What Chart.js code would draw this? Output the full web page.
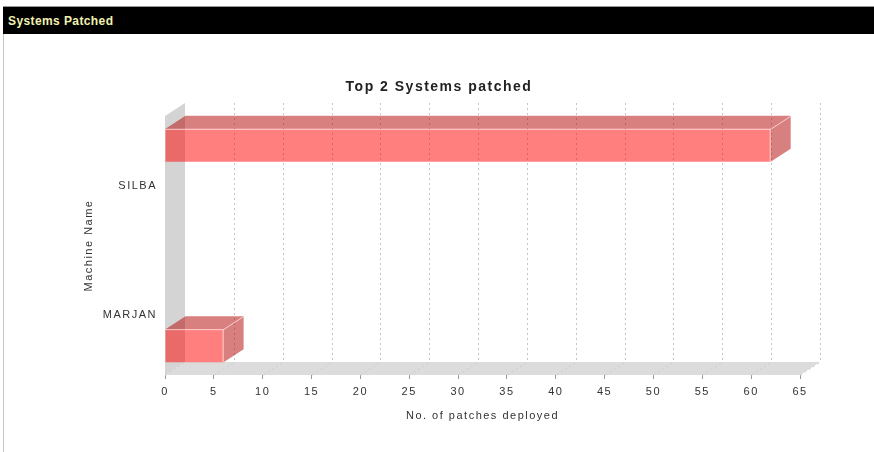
<html><head>
<title>Systems Patched</title>
<script src="https://cdn.jsdelivr.net/npm/chart.js"></script>
<style>
  body { margin: 0; background: #fff; font-family: 'Liberation Sans', Arial, sans-serif; }
  .header {
    position: absolute; left: 3px; top: 6px; width: 871px; height: 28px;
    background: #000; color: #f2f2b0; font-weight: bold; font-size: 12px;
    line-height: 29px; padding-left: 5px; box-sizing: border-box; letter-spacing: 0.4px;
    border-top: 1px solid #999;
  }
  .frame { position: absolute; left: 3px; top: 34px; width: 871px; height: 418px; border-left: 1px solid #c8c8c8; }
  .box { position: absolute; left: 0; top: 34px; width: 874px; height: 418px; }
</style>
</head>
<body>
  <div class="header">Systems Patched</div>
  <div class="frame"></div>
  <div class="box"><canvas id="patchChart" width="874" height="418"></canvas></div>

<script>
  // data
  const machines = ['SILBA', 'MARJAN'];
  const patchCounts = [62, 6];
  const xMin = 0, xMax = 65, xStep = 5;

  // 3D depth of the JFreeChart-style plot
  const DX = 20, DY = -13;

  Chart.defaults.font.family = "'Liberation Sans', Arial, sans-serif";
  Chart.defaults.font.size = 11;
  Chart.defaults.color = '#333';

  // one dataset per machine so each bar sits in its own half of the band
  const datasets = machines.map((m, i) => ({
    label: m,
    data: patchCounts.map((v, j) => (j === i ? v : null)),
    backgroundColor: 'rgba(255,0,0,0.5)',
    borderWidth: 0,
    categoryPercentage: 1.093,
    barPercentage: 0.466
  }));

  function poly(ctx, pts) {
    ctx.beginPath();
    ctx.moveTo(pts[0][0], pts[0][1]);
    for (let i = 1; i < pts.length; i++) ctx.lineTo(pts[i][0], pts[i][1]);
    ctx.closePath();
    ctx.fill();
  }

  const threeD = {
    id: 'threeD',
    beforeDraw(chart) {
      chart.ctx.letterSpacing = '1.5px';
    },
    beforeDatasetsDraw(chart) {
      const { ctx, chartArea: a, scales: { x } } = chart;
      ctx.save();
      ctx.letterSpacing = '0px';
      // left wall
      ctx.fillStyle = '#d4d4d4';
      poly(ctx, [[a.left, a.top], [a.left + DX, a.top + DY], [a.left + DX, a.bottom + DY], [a.left, a.bottom]]);
      // floor
      ctx.fillStyle = '#dcdcdc';
      poly(ctx, [[a.left, a.bottom], [a.left + DX, a.bottom + DY], [a.right + DX, a.bottom + DY], [a.right, a.bottom]]);
      // gridlines on back plane + floor
      ctx.lineWidth = 1;
      ctx.setLineDash([2, 3]);
      x.ticks.forEach(t => {
        const px = Math.round(x.getPixelForValue(t.value)) + 0.5;
        if (t.value > xMin) {
          ctx.strokeStyle = '#c4c4c4';
          ctx.beginPath();
          ctx.moveTo(px + DX, a.top + DY);
          ctx.lineTo(px + DX, a.bottom + DY);
          ctx.stroke();
        }
        ctx.strokeStyle = '#cbcbcb';
        ctx.beginPath();
        ctx.moveTo(px, a.bottom);
        ctx.lineTo(px + DX, a.bottom + DY);
        ctx.stroke();
      });
      ctx.restore();
    },
    afterDatasetsDraw(chart) {
      const ctx = chart.ctx;
      ctx.save();
      chart.data.datasets.forEach((ds, i) => {
        chart.getDatasetMeta(i).data.forEach((bar, j) => {
          if (ds.data[j] == null) return;
          const { x, y, base, height } = bar.getProps(['x', 'y', 'base', 'height'], true);
          const top = y - height / 2, bot = y + height / 2;
          ctx.fillStyle = 'rgba(178,0,0,0.5)';
          poly(ctx, [[base, top], [x, top], [x + DX, top + DY], [base + DX, top + DY]]);
          poly(ctx, [[x, top], [x + DX, top + DY], [x + DX, bot + DY], [x, bot]]);
          ctx.strokeStyle = 'rgba(255,220,220,0.8)';
          ctx.lineWidth = 1;
          ctx.beginPath();
          ctx.moveTo(base, top + 0.5);
          ctx.lineTo(x, top + 0.5);
          ctx.lineTo(x + DX, top + DY + 0.5);
          ctx.moveTo(x - 0.5, top);
          ctx.lineTo(x - 0.5, bot);
          ctx.stroke();
        });
      });
      ctx.restore();
    }
  };

  new Chart(document.getElementById('patchChart'), {
    type: 'bar',
    data: { labels: machines, datasets: datasets },
    plugins: [threeD],
    options: {
      indexAxis: 'y',
      responsive: false,
      animation: false,
      layout: { padding: { left: 78, right: 74, top: 0, bottom: 0 } },
      plugins: {
        legend: { display: false },
        tooltip: { enabled: false },
        title: {
          display: true,
          text: 'Top 2 Systems patched',
          color: '#222',
          font: { size: 14, weight: 'bold' },
          padding: { top: 44.6, bottom: 20.6 }
        }
      },
      scales: {
        x: {
          type: 'linear',
          min: xMin,
          max: xMax,
          ticks: { stepSize: xStep, padding: 6, color: '#333' },
          grid: { drawOnChartArea: false, drawTicks: true, tickLength: 4, color: '#999' },
          border: { display: false },
          title: { display: true, text: 'No. of patches deployed', color: '#333', padding: { top: 4, bottom: 29.4 } },
          afterFit(s) { s.height = 77; }
        },
        y: {
          offset: true,
          ticks: { padding: 8, color: '#333', labelOffset: 5 },
          grid: { display: false, drawTicks: false },
          border: { display: false },
          title: { display: true, text: 'Machine Name', color: '#333' },
          afterFit(s) { s.width = 87; }
        }
      }
    }
  });
</script>
</body></html>
